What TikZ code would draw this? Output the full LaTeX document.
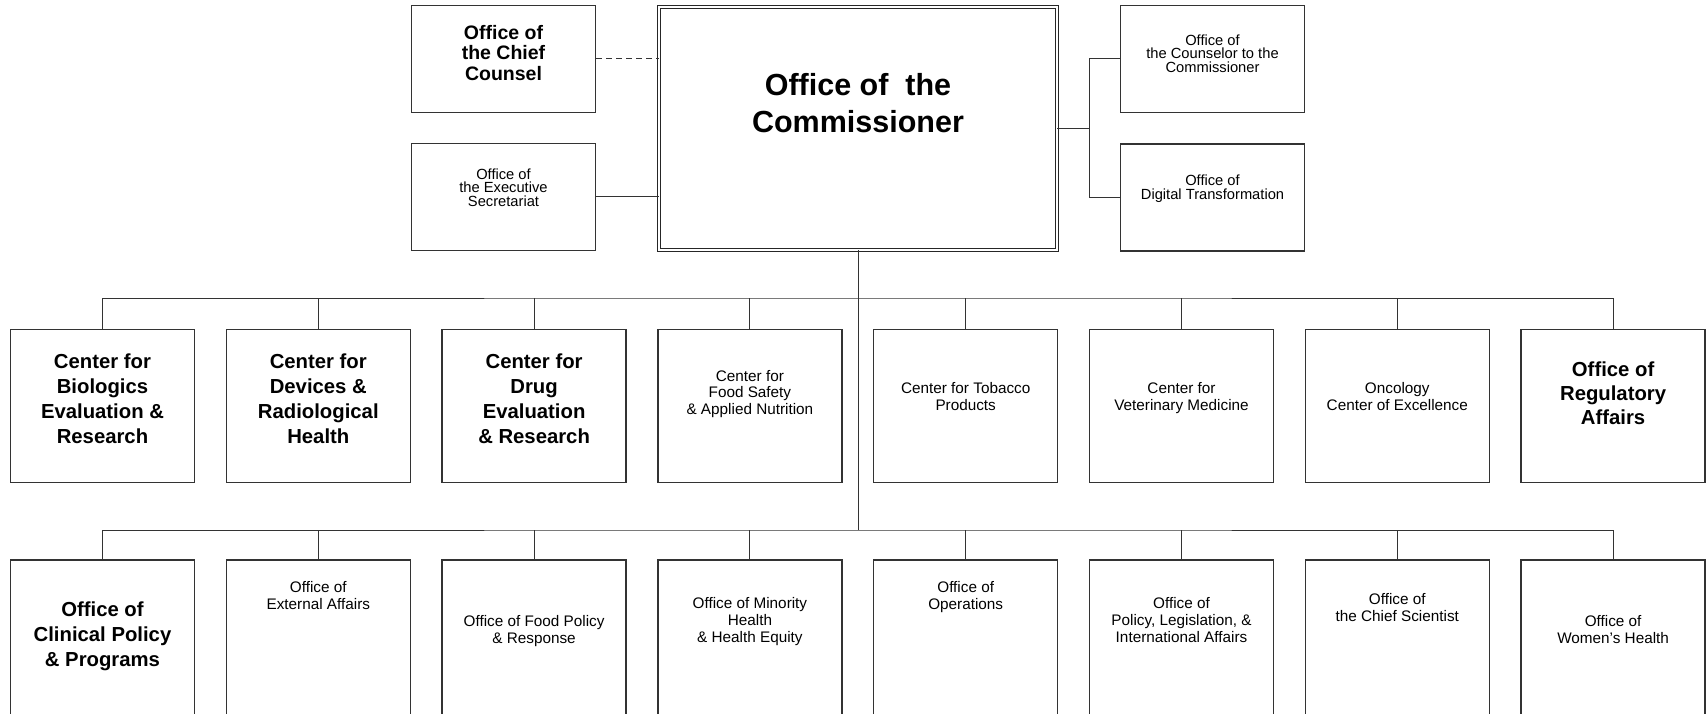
\documentclass[tikz,border=0pt]{standalone}
\usepackage{fontspec}
\setmainfont{Liberation Sans}
\begin{document}
\begin{tikzpicture}[x=1pt,y=-1pt,
  unit/.style={draw=black!80,line width=1.3pt,minimum width=184pt,minimum height=153pt,inner sep=0pt},
  lowunit/.style={unit,minimum height=160pt},
  side/.style={draw=black!80,line width=1.3pt,minimum width=184pt,minimum height=107pt,inner sep=0pt},
  boss/.style={draw=black!85,line width=0.9pt,double,double distance=2.4pt,minimum width=397.8pt,minimum height=242.8pt,inner sep=0pt},
  link/.style={draw=black!80,line width=1pt},
  bossname/.style={anchor=north,align=center,inner sep=0pt,font=\fontsize{30.5}{37.3}\selectfont\bfseries},
  bigname/.style={anchor=north,align=center,inner sep=0pt,font=\fontsize{20.3}{25}\selectfont\bfseries},
  smallname/.style={anchor=north,align=center,inner sep=0pt,font=\fontsize{15.3}{16.6}\selectfont},
  topname/.style={anchor=north,align=center,inner sep=0pt,font=\fontsize{14.7}{13.6}\selectfont}]
  \useasboundingbox (0,0) rectangle (1708,714);

  \node[boss] (comm) at (858,128.5) {};
  \node[bossname] (t-comm) at (858,73.3) {Office of~ the\\Commissioner};

  \node[side] (ccnsl) at (503.5,59) {};
  \node[side] (oes) at (503.5,197) {};
  \node[side] (cnsl) at (1212.5,59) {};
  \node[side] (odt) at (1212.5,197.5) {};
  \node[anchor=north,align=center,inner sep=0pt,font=\fontsize{19.5}{20.5}\selectfont\bfseries] (t-ccnsl) at (503.5,25) {Office of\\the Chief\\Counsel};
  \node[topname] (t-oes) at (503.5,168.3) {Office of\\the Executive\\Secretariat};
  \node[topname] (t-cnsl) at (1212.5,34.3) {Office of\\the Counselor to the\\Commissioner};
  \node[topname] (t-odt) at (1212.5,175) {Office of\\Digital Transformation};

  \draw[link,dash pattern=on 6pt off 4pt] (ccnsl.east) -- (ccnsl.east -| comm.west);
  \draw[link] (oes.east) -- (oes.east -| comm.west);
  \coordinate (rbus) at (1089,128.5);
  \draw[link] (comm.east) -- (rbus);
  \draw[link] (cnsl.west) -| (rbus) |- (odt.west);

  \foreach \n [count=\i from 0] in {cber,cdrh,cder,cfsan,ctp,cvm,oce,ora}
    \node[unit] (\n) at (102.5+215.8*\i,406) {};
  \foreach \n [count=\i from 0] in {ocpp,oea,ofpr,omhhe,oo,oplia,ocs,owh}
    \node[lowunit] (\n) at (102.5+215.8*\i,640) {};

  \node[bigname] (t-cber) at (cber.center |- 0,353.3) {Center for\\Biologics\\Evaluation \&\\Research};
  \node[bigname] (t-cdrh) at (cdrh.center |- 0,353.3) {Center for\\Devices \&\\Radiological\\Health};
  \node[bigname] (t-cder) at (cder.center |- 0,353.3) {Center for\\Drug\\Evaluation\\\& Research};
  \node[smallname] (t-cfsan) at (cfsan.center |- 0,370) {Center for\\Food Safety\\\& Applied Nutrition};
  \node[smallname] (t-ctp) at (ctp.center |- 0,382.7) {Center for Tobacco\\Products};
  \node[smallname] (t-cvm) at (cvm.center |- 0,382.7) {Center for\\Veterinary Medicine};
  \node[smallname] (t-oce) at (oce.center |- 0,382.7) {Oncology\\Center of Excellence};
  \node[bigname,font=\fontsize{20.3}{24}\selectfont\bfseries] (t-ora) at (ora.center |- 0,362) {Office of\\Regulatory\\Affairs};

  \node[bigname] (t-ocpp) at (ocpp.center |- 0,601.5) {Office of\\Clinical Policy\\\& Programs};
  \node[smallname] (t-oea) at (oea.center |- 0,581.5) {Office of\\External Affairs};
  \node[smallname] (t-ofpr) at (ofpr.center |- 0,615.5) {Office of Food Policy\\\& Response};
  \node[smallname] (t-omhhe) at (omhhe.center |- 0,597.7) {Office of Minority\\Health\\\& Health Equity};
  \node[smallname] (t-oo) at (oo.center |- 0,581.5) {Office of\\Operations};
  \node[smallname] (t-oplia) at (oplia.center |- 0,597.7) {Office of\\Policy, Legislation, \&\\International Affairs};
  \node[smallname] (t-ocs) at (ocs.center |- 0,593.3) {Office of\\the Chief Scientist};
  \node[smallname] (t-owh) at (owh.center |- 0,615.5) {Office of\\Women's Health};

  \coordinate (bus1) at (858,298);
  \coordinate (bus2) at (858,530);
  \draw[link] (comm.south) -- (bus2);
  \draw[link] (cber.north) |- (bus1) -| (ora.north);
  \draw[link] (ocpp.north) |- (bus2) -| (owh.north);
  \foreach \n in {cdrh,cder,cfsan,ctp,cvm,oce}
    \draw[link] (\n.north) -- (\n.north |- bus1);
  \foreach \n in {oea,ofpr,omhhe,oo,oplia,ocs}
    \draw[link] (\n.north) -- (\n.north |- bus2);
\end{tikzpicture}
\end{document}
